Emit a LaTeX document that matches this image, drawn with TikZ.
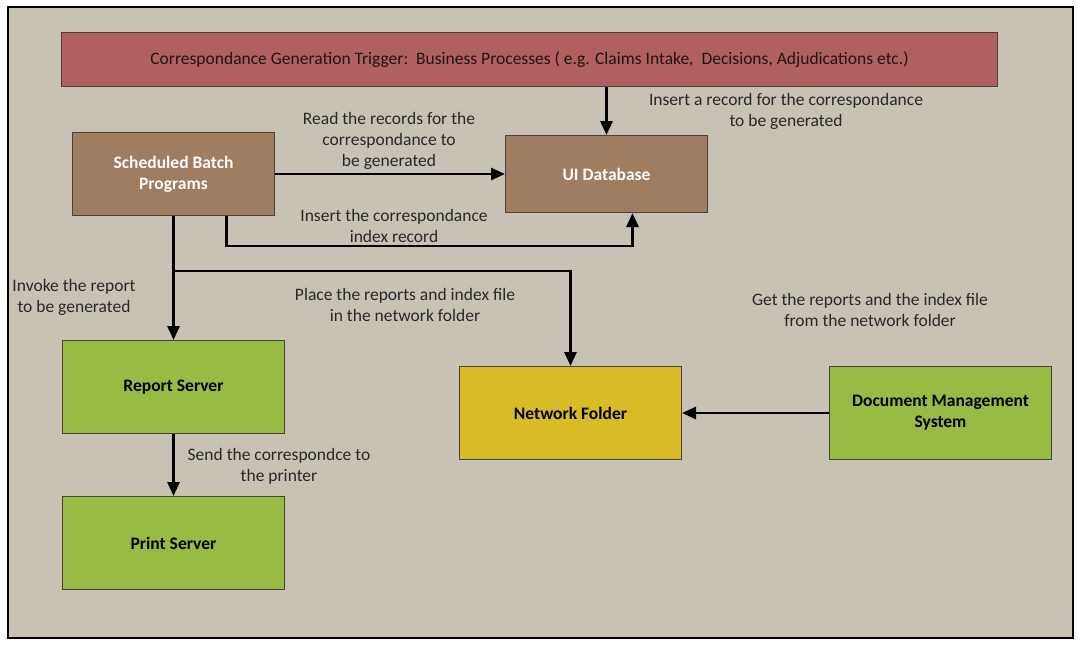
\documentclass[tikz,border=0pt]{standalone}
\usepackage{fontspec}
\setmainfont{Carlito}
\usetikzlibrary{arrows.meta}
\definecolor{pagebg}{RGB}{200,194,181}
\definecolor{trigred}{RGB}{176,96,96}
\definecolor{dbbrown}{RGB}{160,124,96}
\definecolor{srvgreen}{RGB}{153,187,68}
\definecolor{folderyel}{RGB}{216,187,39}
\definecolor{boxline}{RGB}{70,66,60}
\definecolor{labeltxt}{RGB}{40,40,40}
\tikzset{
  box/.style={draw=boxline, line width=1pt, anchor=north west, inner sep=2pt,
              align=center, font=\fontsize{17.5}{21}\selectfont\bfseries},
  flow/.style={draw=black, line width=2.8pt,
               -{Triangle[length=14pt,width=12pt]}},
  lbl/.style={align=center, text=labeltxt, font=\fontsize{17.5}{21}\selectfont}
}
\begin{document}
\begin{tikzpicture}[x=1pt,y=-1pt]
\useasboundingbox (0,0) rectangle (1078,646);
% frame
\draw[fill=pagebg, line width=2pt] (8,7) rectangle (1073,638);

% boxes
\node[box, fill=trigred, minimum width=936pt, minimum height=54pt, text=black!80!trigred,
      font=\fontsize{17.5}{21}\selectfont] (trig) at (61,32)
  {Correspondance Generation Trigger:\ \ Business Processes ( e.g. Claims Intake,\ \ Decisions, Adjudications etc.)};
\node[box, fill=dbbrown, text=white, minimum width=202pt, minimum height=83pt] (sbp) at (72,132)
  {Scheduled Batch\\Programs};
\node[box, fill=dbbrown, text=white, minimum width=202pt, minimum height=77pt] (ui) at (505,135)
  {UI Database};
\node[box, fill=srvgreen, text=black, minimum width=222pt, minimum height=93pt] (rs) at (62,340)
  {Report Server};
\node[box, fill=srvgreen, text=black, minimum width=222pt, minimum height=93pt] (ps) at (62,496)
  {Print Server};
\node[box, fill=folderyel, text=black, minimum width=222pt, minimum height=93pt] (nf) at (459,366)
  {Network Folder};
\node[box, fill=srvgreen, text=black, minimum width=222pt, minimum height=93pt] (dms) at (829,366)
  {Document Management\\System};

% connectors
\draw[flow] (trig.south -| ui.north) -- (ui.north);
\draw[flow] (sbp.east) -- (ui.west);
\draw[flow] ([xshift=53pt]sbp.south) -- ++(0,30) -| ([xshift=26pt]ui.south);
\draw[flow] (sbp.south) -- (rs.north);
\coordinate (split) at (sbp.south |- 0,271);
\draw[flow] (split) -| (nf.north);
\draw[flow] (rs.south) -- (ps.north);
\draw[flow] (dms.west) -- (nf.east);

% labels
\node[lbl] (l1) at (786,111) {Insert a record for the correspondance\\to be generated};
\node[lbl] (l2) at (389,141) {Read the records for the\\correspondance to\\be generated};
\node[lbl] (l3) at (394,226) {Insert the correspondance\\index record};
\node[lbl] (l4) at (74,297) {Invoke the report\\to be generated};
\node[lbl] (l5) at (405,305) {Place the reports and index file\\in the network folder};
\node[lbl] (l6) at (870,310) {Get the reports and the index file\\from the network folder};
\node[lbl] (l7) at (279,466) {Send the correspondce to\\the printer};
\end{tikzpicture}
\end{document}
